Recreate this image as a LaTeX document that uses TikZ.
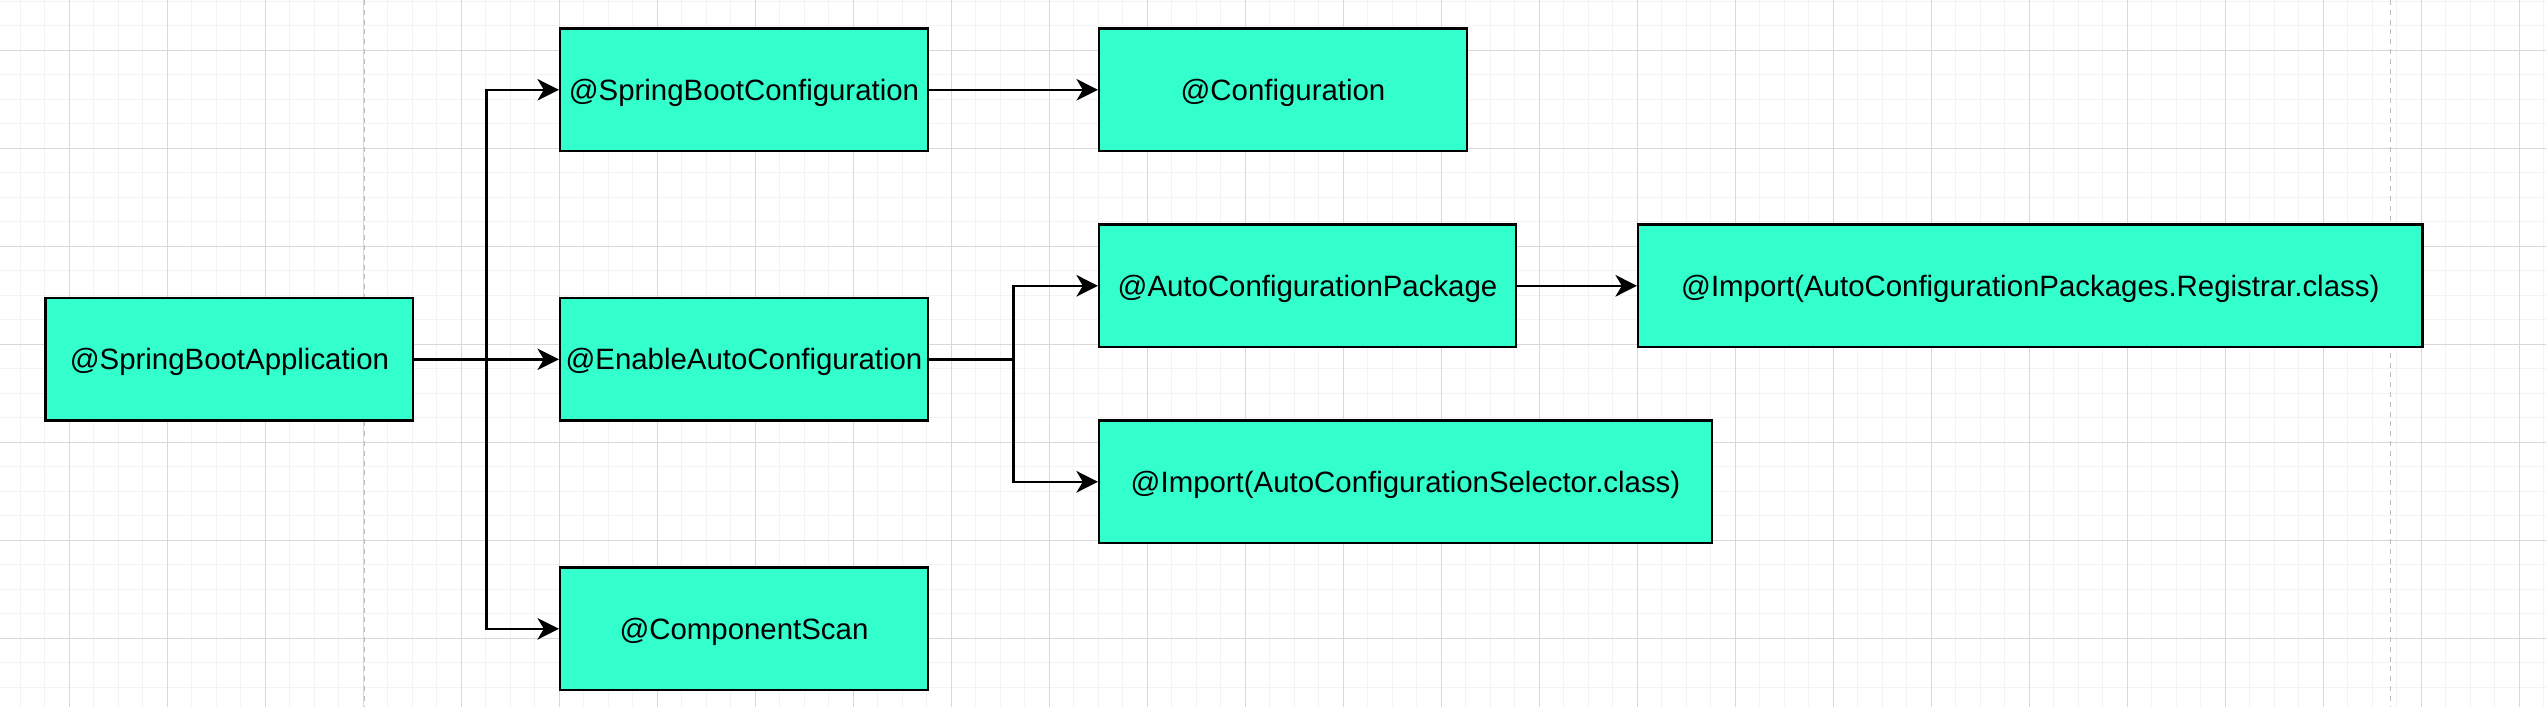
\documentclass[tikz,border=0pt]{standalone}
\usepackage{fontspec}
\setmainfont{Liberation Sans}
\usetikzlibrary{arrows.meta}

\definecolor{annofill}{HTML}{33FFCC}
\definecolor{gridminor}{HTML}{F3F3F3}
\definecolor{gridmajor}{HTML}{D8D8D8}
\definecolor{pageline}{HTML}{BDBDBD}

\begin{document}
\begin{tikzpicture}[x=1bp, y=-1bp,
    anno/.style={draw=black, line width=1bp, fill=annofill, minimum height=50bp,
        inner sep=0pt, text height=10.2bp, text depth=1.8bp,
        font=\fontsize{12bp}{14bp}\selectfont},
    link/.style={line width=1bp, -{Stealth[length=8.8bp, width=8.8bp, inset=2.6bp]}}]
    \useasboundingbox[fill=white] (-18.65,-146.65) rectangle (1020.5,141.9);

    % Background Grid
    \foreach \gx in {-10.4,-0.4,...,1019.6}
        \draw[gridminor, line width=0.45bp] (\gx,-146.65) -- (\gx,141.9);
    \foreach \gy in {-146.2,-136.2,...,141}
        \draw[gridminor, line width=0.45bp] (-18.65,\gy) -- (1020.5,\gy);
    \foreach \gx in {9.6,49.6,...,1019.6}
        \draw[gridmajor, line width=0.45bp] (\gx,-146.65) -- (\gx,141.9);
    \foreach \gy in {-126.2,-86.2,...,141}
        \draw[gridmajor, line width=0.45bp] (-18.65,\gy) -- (1020.5,\gy);

    % -- page breaks
    \draw[pageline, line width=0.55bp, dash pattern=on 2bp off 2bp] (130,-146.65) -- (130,141.9);
    \draw[pageline, line width=0.55bp, dash pattern=on 2bp off 2bp] (957,-146.65) -- (957,141.9);

    % Annotation Boxes
    \node[anno, minimum width=150bp] (sba) at (75,0) {@SpringBootApplication};

    % -- first level
    \node[anno, minimum width=150bp] (sbc) at (285,-110) {@SpringBootConfiguration};
    \node[anno, minimum width=150bp] (eac) at (285,0) {@EnableAutoConfiguration};
    \node[anno, minimum width=150bp] (cs) at (285,110) {@ComponentScan};

    % -- second level
    \node[anno, minimum width=150bp] (cfg) at (505,-110) {@Configuration};
    \node[anno, minimum width=170bp] (acp) at (515,-30) {@AutoConfigurationPackage};
    \node[anno, minimum width=250bp] (isel) at (555,50) {@Import(AutoConfigurationSelector.class)};
    \node[anno, minimum width=320bp] (reg) at (810,-30) {@Import(AutoConfigurationPackages.Registrar.class)};

    % Connectors
    \coordinate (forkA) at (180,0);
    \coordinate (forkB) at (395,0);
    \draw[link] (sba.east) -- (forkA) |- (sbc.west);
    \draw[link] (sba.east) -- (eac.west);
    \draw[link] (sba.east) -- (forkA) |- (cs.west);
    \draw[link] (sbc) -- (cfg);
    \draw[link] (eac.east) -- (forkB) |- (acp.west);
    \draw[link] (eac.east) -- (forkB) |- (isel.west);
    \draw[link] (acp) -- (reg);
\end{tikzpicture}
\end{document}
